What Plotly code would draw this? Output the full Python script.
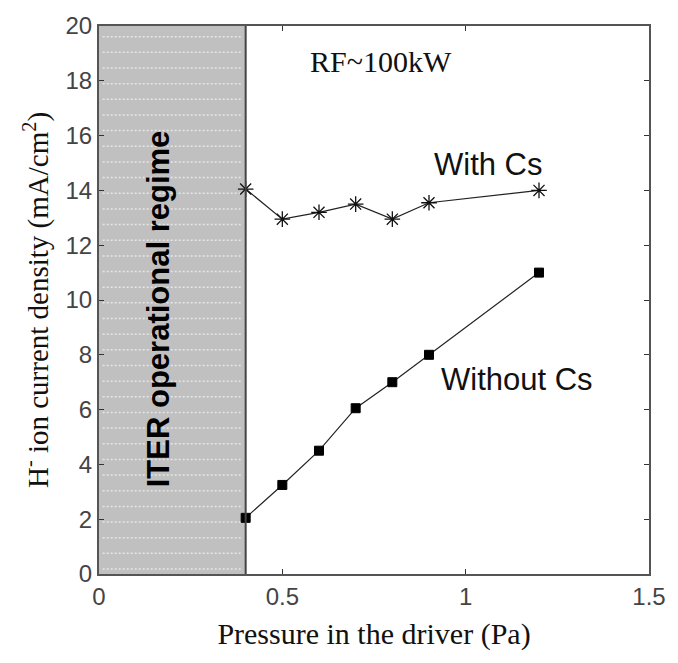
import numpy as np
import plotly.graph_objects as go

# ---- data ----
pressure = [0.4, 0.5, 0.6, 0.7, 0.8, 0.9, 1.2]
with_cs = [14.05, 12.95, 13.2, 13.5, 12.95, 13.55, 14.0]
without_cs = [2.05, 3.25, 4.5, 6.05, 7.0, 8.0, 11.0]
x_ticks = [0, 0.5, 1, 1.5]
x_tick_text = ["0", "0.5", "1", "1.5"]
y_ticks = list(range(0, 21, 2))
iter_limit = 0.4

fig = go.Figure()

fig.add_trace(go.Scatter(
    x=pressure, y=with_cs, mode="lines+markers",
    line=dict(color="#222222", width=1.2),
    marker=dict(symbol="asterisk-open", size=13, color="#111111",
                line=dict(color="#111111", width=1.3)),
    showlegend=False))

fig.add_trace(go.Scatter(
    x=pressure, y=without_cs, mode="lines+markers",
    line=dict(color="#222222", width=1.2),
    marker=dict(symbol="square", size=9, color="#000000",
                line=dict(color="#000000", width=1)),
    showlegend=False))

# shaded ITER regime
shapes = [dict(type="rect", xref="x", yref="y", x0=0, x1=iter_limit, y0=0, y1=20,
               fillcolor="#c0c0c0", line=dict(width=0), layer="below")]
for yy in np.arange(19.61, 0, -0.5714):
    shapes.append(dict(type="line", xref="x", yref="y", x0=0.01, x1=iter_limit - 0.01,
                       y0=yy, y1=yy, layer="below",
                       line=dict(color="#e6e6e6", width=1.5, dash="2px,2px")))
shapes.append(dict(type="line", xref="x", yref="y", x0=iter_limit, x1=iter_limit,
                   y0=0, y1=20, line=dict(color="#444444", width=2)))

annotations = [
    dict(x=0.77, y=18.7, xref="x", yref="y", text="RF~100kW", showarrow=False,
         font=dict(family="Liberation Serif", size=30, color="#111111")),
    dict(x=1.061, y=14.94, xref="x", yref="y", text="With Cs", showarrow=False,
         font=dict(family="Liberation Sans", size=31, color="#111111")),
    dict(x=1.14, y=7.09, xref="x", yref="y", text="Without Cs", showarrow=False,
         font=dict(family="Liberation Sans", size=31, color="#111111")),
    dict(x=0.163, y=9.69, xref="x", yref="y", text="<b>ITER operational regime</b>",
         showarrow=False, textangle=-90,
         font=dict(family="Liberation Sans", size=31, color="#000000")),
]

fig.update_layout(
    width=678, height=663,
    margin=dict(l=99, r=19, t=21, b=89),
    paper_bgcolor="white", plot_bgcolor="white",
    shapes=shapes, annotations=annotations,
    xaxis=dict(range=[0, 1.5], tickvals=x_ticks, ticktext=x_tick_text,
               ticks="inside", ticklen=5, tickcolor="#333333",
               showline=True, linecolor="#555555", linewidth=2, mirror="ticks",
               showgrid=False, zeroline=False,
               tickfont=dict(family="Liberation Sans", size=24, color="#444444"),
               title=dict(text="Pressure in the driver (Pa)", standoff=14,
                          font=dict(family="Liberation Serif", size=30, color="#111111"))),
    yaxis=dict(range=[0, 20], tickvals=y_ticks,
               ticks="inside", ticklen=5, tickcolor="#333333",
               showline=True, linecolor="#555555", linewidth=2, mirror="ticks",
               showgrid=False, zeroline=False,
               tickfont=dict(family="Liberation Sans", size=24, color="#444444"),
               title=dict(text="H<sup>-</sup> ion current density (mA/cm<sup>2</sup>)", standoff=8,
                          font=dict(family="Liberation Serif", size=29, color="#111111"))),
)

fig.write_html("out.html")
